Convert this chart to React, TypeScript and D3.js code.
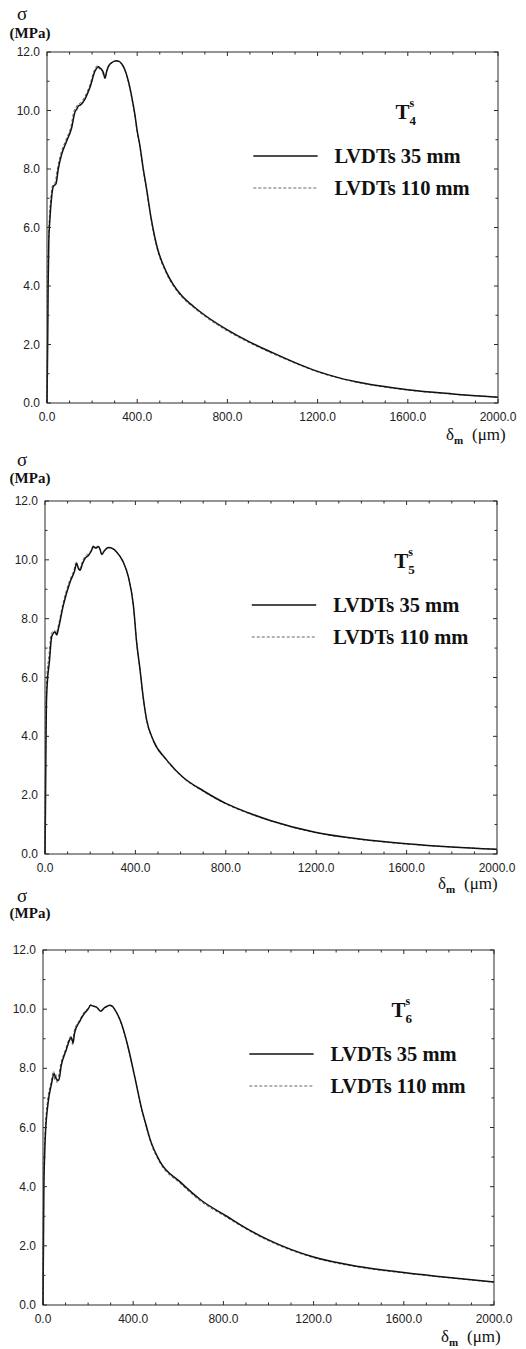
import React from "react";
import * as d3 from "d3";

// ---------- tick labels ----------
const xTickValues = [0, 400, 800, 1200, 1600, 2000];
const yTickValues = [0, 2, 4, 6, 8, 10, 12];
const xMinorStep = 100;
const yMinorStep = 1;
const seriesLabels = ["LVDTs 35 mm", "LVDTs 110 mm"];
const specimenNumbers = ["4", "5", "6"];

// ---------- T4 ----------
const t4Delta35 = [0, 3, 5, 8, 13, 20, 28, 40, 50, 65, 87, 109, 124, 132, 139, 150, 169, 191, 213, 228, 235, 242, 250, 257, 265, 272, 290, 306, 320, 331, 345, 361, 375, 390, 400, 412, 425, 442, 460, 486, 531, 560, 600, 650, 700, 800, 900, 1000, 1100, 1200, 1300, 1400, 1600, 1800, 2000];
const t4Sigma35 = [0, 2.0, 4.0, 5.5, 6.3, 7.0, 7.4, 7.5, 8.0, 8.5, 8.95, 9.4, 9.95, 10.05, 10.15, 10.2, 10.4, 10.8, 11.35, 11.5, 11.45, 11.4, 11.3, 11.1, 11.35, 11.5, 11.65, 11.7, 11.68, 11.6, 11.4, 11.0, 10.5, 9.85, 9.3, 8.8, 8.1, 7.3, 6.4, 5.4, 4.45, 4.05, 3.65, 3.3, 3.0, 2.5, 2.08, 1.72, 1.38, 1.08, 0.85, 0.68, 0.45, 0.31, 0.2];
const t4Delta110 = [0, 2, 4, 7, 11, 18, 25, 36, 47, 62, 84, 106, 120, 128, 136, 147, 166, 189, 211, 226, 233, 240, 248, 255, 263, 271, 289, 305, 320, 331, 345, 361, 375, 390, 400, 412, 425, 442, 460, 486, 531, 560, 600, 650, 700, 800, 900, 1000, 1100, 1200, 1300, 1400, 1600, 1800, 2000];
const t4Sigma110 = [0, 2.2, 4.2, 5.6, 6.4, 7.1, 7.45, 7.55, 8.05, 8.55, 9.0, 9.45, 10.0, 10.1, 10.2, 10.25, 10.45, 10.85, 11.4, 11.55, 11.4, 11.45, 11.25, 11.15, 11.3, 11.5, 11.64, 11.69, 11.67, 11.59, 11.38, 10.97, 10.45, 9.8, 9.25, 8.75, 8.05, 7.25, 6.35, 5.35, 4.4, 4.0, 3.6, 3.26, 2.96, 2.46, 2.05, 1.69, 1.36, 1.06, 0.84, 0.67, 0.44, 0.3, 0.2];

// ---------- T5 ----------
const t5Delta35 = [0, 2, 4, 6, 10, 19, 30, 44, 52, 59, 81, 111, 130, 140, 148, 155, 165, 177, 192, 205, 214, 225, 236, 244, 251, 262, 280, 300, 317, 346, 369, 391, 406, 420, 435, 450, 479, 538, 612, 700, 800, 900, 1000, 1200, 1400, 1600, 1800, 2000];
const t5Sigma35 = [0, 1.5, 3.5, 5.0, 5.8, 6.5, 7.4, 7.55, 7.45, 7.65, 8.45, 9.25, 9.6, 9.88, 9.7, 9.65, 9.85, 10.05, 10.15, 10.3, 10.45, 10.4, 10.45, 10.35, 10.18, 10.3, 10.42, 10.38, 10.27, 9.93, 9.42, 8.46, 7.16, 6.3, 5.3, 4.55, 3.87, 3.2, 2.6, 2.15, 1.72, 1.4, 1.13, 0.73, 0.5, 0.35, 0.24, 0.16];
const t5Delta110 = [0, 1, 3, 5, 8, 17, 28, 42, 50, 57, 79, 109, 128, 138, 146, 153, 163, 175, 190, 204, 213, 224, 235, 243, 250, 261, 279, 300, 317, 346, 369, 391, 406, 420, 435, 450, 479, 538, 612, 700, 800, 900, 1000, 1200, 1400, 1600, 1800, 2000];
const t5Sigma110 = [0, 1.8, 3.8, 5.2, 6.0, 6.7, 7.5, 7.6, 7.5, 7.7, 8.5, 9.3, 9.65, 9.92, 9.75, 9.7, 9.9, 10.1, 10.2, 10.33, 10.48, 10.42, 10.47, 10.33, 10.2, 10.3, 10.41, 10.37, 10.26, 9.92, 9.4, 8.44, 7.14, 6.28, 5.28, 4.53, 3.85, 3.18, 2.58, 2.13, 1.7, 1.38, 1.12, 0.72, 0.49, 0.34, 0.24, 0.16];

// ---------- T6 ----------
const t6Delta35 = [0, 2, 4, 7, 10, 22, 37, 49, 55, 59, 65, 70, 81, 103, 118, 126, 133, 140, 163, 185, 200, 211, 225, 237, 256, 273, 285, 296, 307, 318, 347, 377, 407, 436, 460, 473, 519, 607, 700, 815, 900, 1000, 1200, 1400, 1600, 1800, 2000];
const t6Sigma35 = [0, 2.0, 4.0, 5.0, 5.65, 6.8, 7.45, 7.82, 7.7, 7.65, 7.6, 7.6, 8.1, 8.62, 8.96, 9.05, 8.85, 9.19, 9.59, 9.87, 10.0, 10.13, 10.1, 10.07, 9.93, 10.05, 10.1, 10.13, 10.1, 9.99, 9.53, 8.73, 7.71, 6.68, 6.0, 5.65, 4.85, 4.17, 3.55, 3.0, 2.6, 2.2, 1.62, 1.3, 1.1, 0.93, 0.78];
const t6Delta110 = [0, 1, 3, 6, 9, 20, 35, 47, 53, 57, 63, 68, 79, 101, 116, 124, 131, 138, 161, 183, 199, 210, 224, 236, 255, 272, 284, 295, 306, 318, 347, 377, 407, 436, 460, 473, 519, 607, 700, 815, 900, 1000, 1200, 1400, 1600, 1800, 2000];
const t6Sigma110 = [0, 2.3, 4.2, 5.2, 5.8, 6.9, 7.5, 7.9, 7.6, 7.8, 7.5, 7.7, 8.15, 8.66, 9.0, 9.1, 8.8, 9.25, 9.62, 9.9, 10.03, 10.15, 10.1, 10.08, 9.95, 10.05, 10.1, 10.12, 10.09, 9.98, 9.5, 8.7, 7.68, 6.64, 5.96, 5.6, 4.8, 4.12, 3.5, 2.96, 2.57, 2.17, 1.6, 1.28, 1.08, 0.92, 0.77];

type Layout = { left: number; right: number; top: number; bottom: number; sigmaY: number; mpaY: number; titleX: number; titleY: number };

const layouts: Layout[] = [
  { left: 47, right: 498, top: 52, bottom: 403, sigmaY: 20, mpaY: 38, titleX: 446, titleY: 440 },
  { left: 45, right: 497, top: 501, bottom: 854, sigmaY: 466, mpaY: 483, titleX: 438, titleY: 889 },
  { left: 43, right: 494, top: 950, bottom: 1305, sigmaY: 902, mpaY: 918, titleX: 441, titleY: 1342 },
];

const panelData = [
  { d35: t4Delta35, s35: t4Sigma35, d110: t4Delta110, s110: t4Sigma110 },
  { d35: t5Delta35, s35: t5Sigma35, d110: t5Delta110, s110: t5Sigma110 },
  { d35: t6Delta35, s35: t6Sigma35, d110: t6Delta110, s110: t6Sigma110 },
];

const tickFont = "'Liberation Sans', Arial, sans-serif";
const serif = "'Liberation Serif', 'Times New Roman', serif";

function Panel({ idx }: { idx: number }) {
  const L = layouts[idx];
  const D = panelData[idx];
  const x = d3.scaleLinear().domain([0, 2000]).range([L.left, L.right]);
  const y = d3.scaleLinear().domain([0, 12]).range([L.bottom, L.top]);
  const line = d3
    .line<[number, number]>()
    .x((p) => x(p[0]))
    .y((p) => y(p[1]))
    .curve(d3.curveMonotoneX);
  const pts35 = D.d35.map((d, i) => [d, D.s35[i]] as [number, number]);
  const pts110 = D.d110.map((d, i) => [d, D.s110[i]] as [number, number]);
  const xMinor = d3.range(0, 2001, xMinorStep);
  const yMinor = d3.range(0, 12.01, yMinorStep);
  const legX1 = x(915);
  const legX2 = x(1200);
  const legTextX = x(1275);
  const legY1 = L.top + 104;
  const legY2 = L.top + 136;
  const tX = x(1545);
  const tY = L.top + 67;
  const stroke = "#2a2a2a";
  return (
    <g>
      {/* curves */}
      <path d={line(pts110) || ""} fill="none" stroke="#666" strokeWidth={1} strokeDasharray="3,2" />
      <path d={line(pts35) || ""} fill="none" stroke="#111" strokeWidth={1.5} />
      {/* frame */}
      <rect x={L.left} y={L.top} width={L.right - L.left} height={L.bottom - L.top} fill="none" stroke={stroke} strokeWidth={1} />
      {/* ticks */}
      {xMinor.map((v) => {
        const major = v % 400 === 0;
        const len = major ? 4 : 2.5;
        return (
          <g key={"xt" + v}>
            <line x1={x(v)} x2={x(v)} y1={L.bottom} y2={L.bottom - len} stroke={stroke} strokeWidth={1} />
            <line x1={x(v)} x2={x(v)} y1={L.top} y2={L.top + len} stroke={stroke} strokeWidth={1} />
          </g>
        );
      })}
      {yMinor.map((v) => {
        const major = Math.round(v) % 2 === 0;
        const len = major ? 4 : 2.5;
        return (
          <g key={"yt" + v}>
            <line x1={L.left} x2={L.left + len} y1={y(v)} y2={y(v)} stroke={stroke} strokeWidth={1} />
            <line x1={L.right} x2={L.right - len} y1={y(v)} y2={y(v)} stroke={stroke} strokeWidth={1} />
          </g>
        );
      })}
      {/* tick labels */}
      {xTickValues.map((v) => (
        <text key={"xl" + v} x={x(v)} y={L.bottom + 18} textAnchor="middle" fontFamily={tickFont} fontSize={12} fill="#222">
          {v.toFixed(1)}
        </text>
      ))}
      {yTickValues.map((v) => (
        <text key={"yl" + v} x={L.left - 7} y={y(v) + 4} textAnchor="end" fontFamily={tickFont} fontSize={12} fill="#222">
          {v.toFixed(1)}
        </text>
      ))}
      {/* y label */}
      <text x={22} y={L.sigmaY} textAnchor="middle" fontFamily={serif} fontSize={19} fill="#111">σ</text>
      <text x={30} y={L.mpaY} textAnchor="middle" fontFamily={serif} fontWeight="bold" fontSize={15} fill="#111">(MPa)</text>
      {/* x label */}
      <text x={L.titleX} y={L.titleY} fontFamily={serif} fontSize={17} fill="#111">
        <tspan>δ</tspan>
        <tspan dy={4} fontSize={11} fontWeight="bold">m</tspan>
      </text>
      <text x={L.titleX + 26} y={L.titleY} fontFamily={serif} fontSize={17} fill="#111">(μm)</text>
      {/* specimen label */}
      <text x={tX} y={tY} fontFamily={serif} fontWeight="bold" fontSize={21} fill="#111">T</text>
      <text x={tX + 14} y={tY - 12} fontFamily={serif} fontWeight="bold" fontSize={12} fill="#111">s</text>
      <text x={tX + 14} y={tY + 6} fontFamily={serif} fontWeight="bold" fontSize={13} fill="#111">{specimenNumbers[idx]}</text>
      {/* legend */}
      <line x1={legX1} x2={legX2} y1={legY1} y2={legY1} stroke="#111" strokeWidth={1.3} />
      <line x1={legX1} x2={legX2} y1={legY2} y2={legY2} stroke="#666" strokeWidth={1} strokeDasharray="3,2" />
      <text x={legTextX} y={legY1 + 7} fontFamily={serif} fontWeight="bold" fontSize={20.5} fill="#111">{seriesLabels[0]}</text>
      <text x={legTextX} y={legY2 + 7} fontFamily={serif} fontWeight="bold" fontSize={20.5} fill="#111">{seriesLabels[1]}</text>
    </g>
  );
}

export default function App() {
  return (
    <svg width={526} height={1349} style={{ position: "absolute", left: 0, top: 0, background: "#fff" }}>
      <rect width={526} height={1349} fill="#fff" />
      {layouts.map((_, i) => (
        <Panel key={i} idx={i} />
      ))}
    </svg>
  );
}
